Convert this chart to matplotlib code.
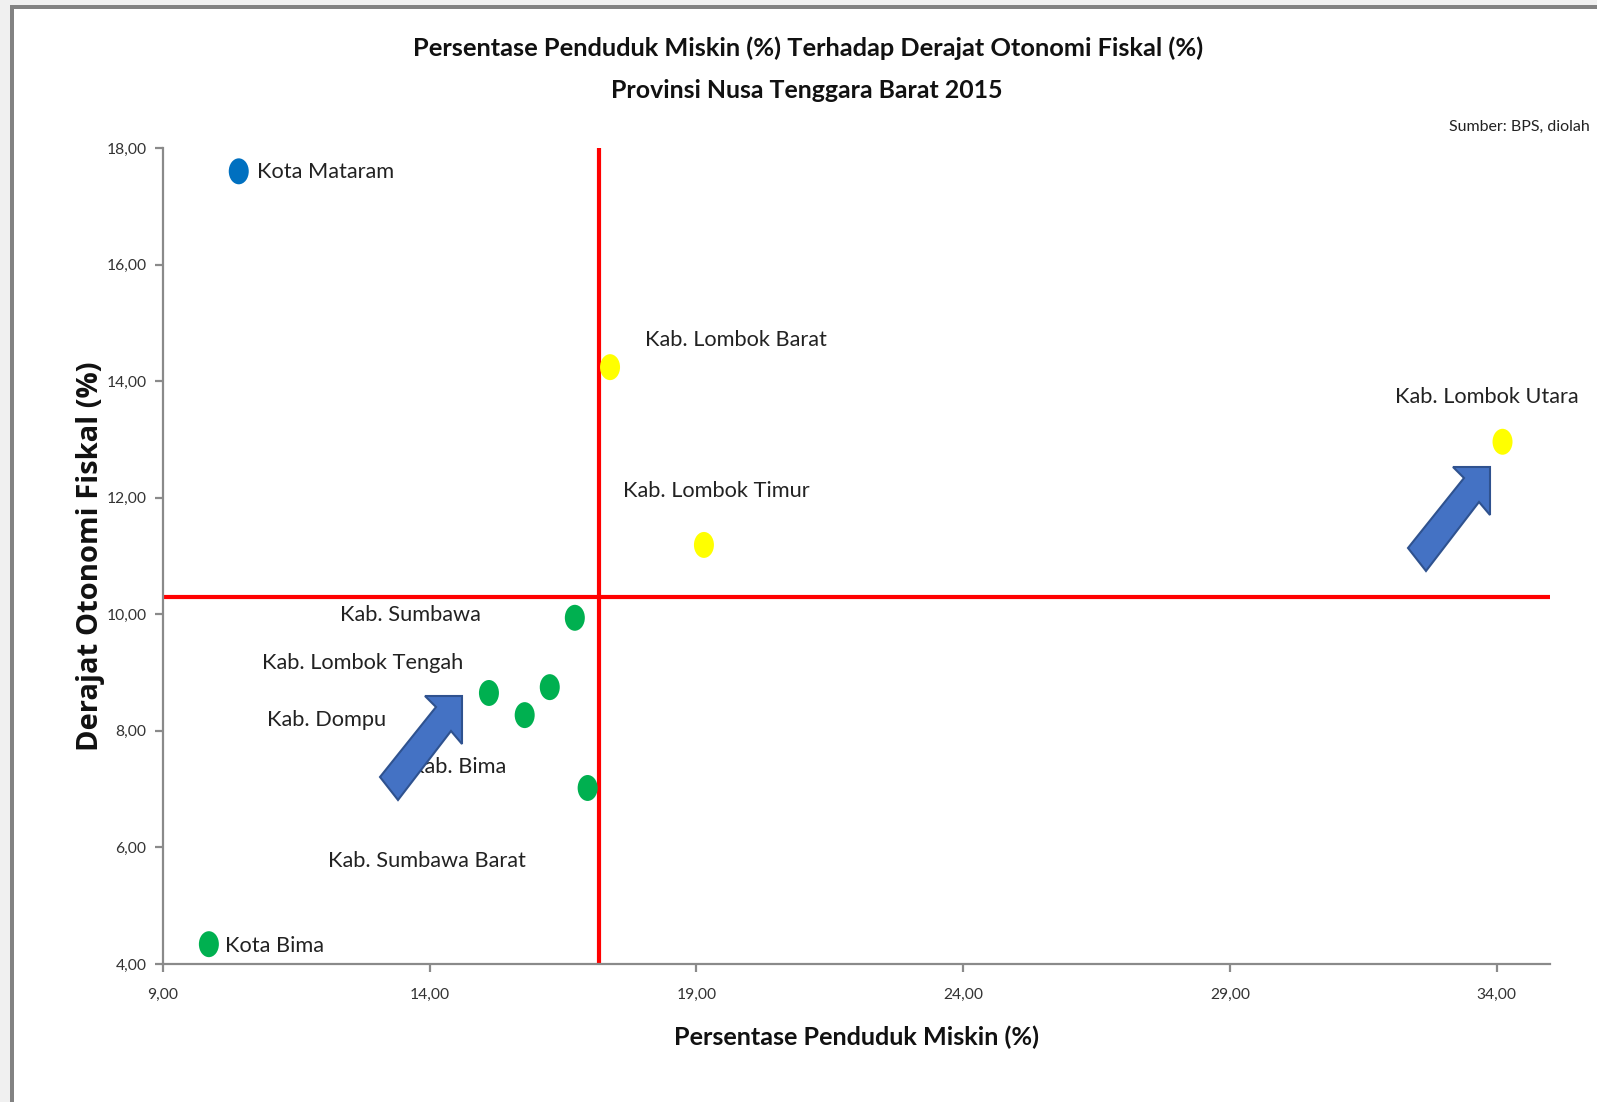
import numpy as np
import matplotlib
matplotlib.use("Agg")
import matplotlib.pyplot as plt
from matplotlib.path import Path
from matplotlib.patches import Polygon, Rectangle
from matplotlib.transforms import IdentityTransform, Affine2D
from matplotlib.ticker import FuncFormatter, FixedLocator

# ---- data -------------------------------------------------------------
regions = ["Kota Mataram", "Kab. Lombok Barat", "Kab. Lombok Utara",
           "Kab. Lombok Timur", "Kab. Sumbawa", "Kab. Lombok Tengah",
           "Kab. Dompu", "Kab. Bima", "Kab. Sumbawa Barat", "Kota Bima"]
poverty = [10.42, 17.38, 34.11, 19.14, 16.72, 15.11, 15.78, 16.25, 16.96, 9.86]
fiscal_autonomy = [17.60, 14.24, 12.96, 11.19, 9.94, 8.65, 8.27, 8.75, 7.02, 4.34]
quadrant = ["blue", "yellow", "yellow", "yellow", "green", "green",
            "green", "green", "green", "green"]
x_ticks = [9, 14, 19, 24, 29, 34]
y_ticks = [4, 6, 8, 10, 12, 14, 16, 18]

# ---- styling ----------------------------------------------------------
W, H, DPI = 1597, 1102, 100
palette = {"blue": "#0070C0", "yellow": "#FFFF00", "green": "#00B050"}
body_font = ["Lato", "DejaVu Sans"]
ylabel_font = ["Open Sans", "DejaVu Sans"]
text_col = "#222222"
axis_col = "#8A8A8A"

# label offsets from each point, in pixels (right, down)
label_offsets = [(18, 1), (35, -27), (-108, -45), (-81, -54), (-235, -3),
                 (-227, -30), (-258, 5), (-140, 80), (-260, 73), (16, 2)]

fig = plt.figure(figsize=(W / DPI, H / DPI), dpi=DPI, facecolor="#F0F0F0")
renderer = fig.canvas.get_renderer()


def fit_width(artist, target_px, vertical=False):
    """Scale an artist's font size so its rendered extent spans target_px."""
    bb = artist.get_window_extent(renderer=renderer)
    span = bb.height if vertical else bb.width
    artist.set_fontsize(artist.get_fontsize() * target_px / span)
    return artist.get_fontsize()


# chart frame: grey border on the top and left edge
fig.add_artist(Rectangle((10 / W, 0), (W - 10) / W, (H - 5) / H,
                         transform=fig.transFigure, facecolor="#828282",
                         edgecolor="none", zorder=0))
fig.add_artist(Rectangle((14 / W, 0), (W - 14) / W, (H - 9) / H,
                         transform=fig.transFigure, facecolor="white",
                         edgecolor="none", zorder=0))

ax_l, ax_r, ax_t, ax_b = 163, 1550, 148, 964
ax = fig.add_axes([ax_l / W, 1 - ax_b / H, (ax_r - ax_l) / W, (ax_b - ax_t) / H])
ax.set_facecolor("none")
ax.set_xlim(9, 35)
ax.set_ylim(4, 18)

for side in ("top", "right"):
    ax.spines[side].set_visible(False)
for side in ("left", "bottom"):
    ax.spines[side].set_color(axis_col)
    ax.spines[side].set_linewidth(1.6)

# tick label size chosen so "18,00" is about 40 px wide
probe = fig.text(0, 0, "18,00", family=body_font, fontsize=14)
tick_size = fit_width(probe, 40)
probe.remove()

fmt = FuncFormatter(lambda v, _: f"{v:.2f}".replace(".", ","))
ax.xaxis.set_major_locator(FixedLocator(x_ticks))
ax.yaxis.set_major_locator(FixedLocator(y_ticks))
ax.xaxis.set_major_formatter(fmt)
ax.yaxis.set_major_formatter(fmt)
ax.tick_params(axis="both", direction="out", length=6, width=1.6,
               color=axis_col, labelcolor="#333333", labelsize=tick_size)
ax.tick_params(axis="x", pad=11)
ax.tick_params(axis="y", pad=6)
for lab in ax.get_xticklabels() + ax.get_yticklabels():
    lab.set_fontfamily(body_font)

# quadrant lines at the means
x_mean = float(np.mean(poverty))
y_mean = float(np.mean(fiscal_autonomy))
ax.axvline(x_mean, color="#FF0000", lw=3, zorder=2)
ax.axhline(y_mean, color="#FF0000", lw=3, zorder=2)

# slightly tall elliptical markers
ellipse = Path.unit_circle().transformed(Affine2D().scale(0.77, 1.0))
ax.scatter(poverty, fiscal_autonomy, s=18.7 ** 2, marker=ellipse,
           c=[palette[q] for q in quadrant], edgecolors="none", zorder=4,
           clip_on=False)

# data label size chosen so "Kab. Lombok Barat" is about 181 px wide
probe = fig.text(0, 0, "Kab. Lombok Barat", family=body_font, fontsize=17)
label_size = fit_width(probe, 181)
probe.remove()

for name, x, y, (dx, dy) in zip(regions, poverty, fiscal_autonomy, label_offsets):
    ax.annotate(name, (x, y), xytext=(dx, -dy), textcoords="offset pixels",
                ha="left", va="center", fontsize=label_size, family=body_font,
                color=text_col, zorder=3, annotation_clip=False)

# block arrows (tip-relative outline, pixels with y downwards)
arrow_shape = np.array([(-37, 0), (0, 0), (0, 48), (-11, 35), (-64, 104),
                        (-82, 81), (-26, 11)], dtype=float)
for tip_x, tip_y in [(462, 696), (1490, 467)]:
    pts = np.column_stack([tip_x + arrow_shape[:, 0], H - (tip_y + arrow_shape[:, 1])])
    fig.add_artist(Polygon(pts, closed=True, transform=IdentityTransform(),
                           facecolor="#4472C4", edgecolor="#2F528F",
                           linewidth=1.5, zorder=10))

# titles and axis labels
t1 = fig.text(808 / W, 1 - 48 / H,
              "Persentase Penduduk Miskin (%) Terhadap Derajat Otonomi Fiskal (%)",
              ha="center", va="center", fontsize=19, fontweight="bold",
              family=body_font, color="#111111")
fit_width(t1, 791)
t2 = fig.text(807 / W, 1 - 91 / H, "Provinsi Nusa Tenggara Barat 2015",
              ha="center", va="center", fontsize=19, fontweight="bold",
              family=body_font, color="#111111")
fit_width(t2, 390)
src = fig.text(1590 / W, 1 - 127 / H, "Sumber: BPS, diolah", ha="right",
               va="center", fontsize=13, family=body_font, color=text_col)
fit_width(src, 140)
xl = fig.text(857 / W, 1 - 1037 / H, "Persentase Penduduk Miskin (%)",
              ha="center", va="center", fontsize=18.5, fontweight="bold",
              family=body_font, color="#111111")
fit_width(xl, 369)
yl = fig.text(91 / W, 1 - 556 / H, "Derajat Otonomi Fiskal (%)", rotation=90,
              ha="center", va="center", fontsize=16.5, fontweight="bold",
              family=ylabel_font, color="#111111")
fit_width(yl, 389, vertical=True)

fig.savefig("out.png", dpi=DPI, facecolor=fig.get_facecolor())
